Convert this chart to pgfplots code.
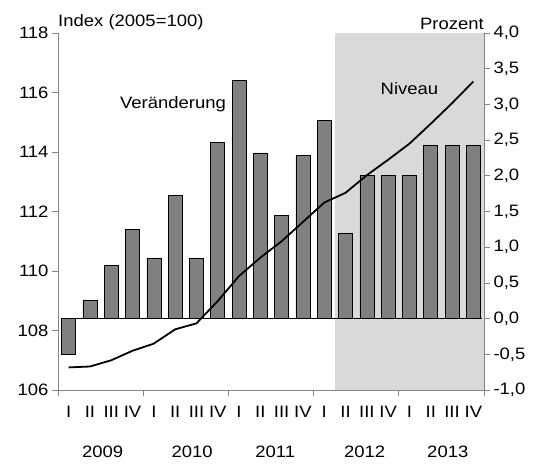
\documentclass[border=0pt]{standalone}
\usepackage{fontspec}
\setmainfont{Liberation Sans}[FakeStretch=1.12]
\usepackage{pgfplots}
\pgfplotsset{compat=1.18}
\definecolor{bargray}{RGB}{128,128,128}
\definecolor{fcgray}{RGB}{217,217,217}
\definecolor{axgray}{RGB}{134,134,134}

\begin{document}
\begin{tikzpicture}
\pgfplotsset{
  base/.style={
    width=426pt, height=357pt, scale only axis,
    xmin=-0.5, xmax=19.5, clip=false,
    font=\fontsize{16.5}{19}\selectfont,
    /pgf/number format/assume math mode=true,
    axis line style={axgray, line width=0.8pt},
    tick style={axgray, line width=0.8pt},
    major tick length=6pt, tick align=outside,
  }
}
% Veraenderung (Prozent), rechte Achse
\begin{axis}[base,
  ymin=-1, ymax=4,
  axis y line*=right, axis x line*=bottom,
  ytick={-1,-0.5,0,0.5,1,1.5,2,2.5,3,3.5,4},
  yticklabel style={/pgf/number format/.cd, fixed, fixed zerofill, precision=1, use comma},
  xtick={0,...,19},
  xticklabels={I,II,III,IV,I,II,III,IV,I,II,III,IV,I,II,III,IV,I,II,III,IV},
  xtick style={draw=none},
  xticklabel style={yshift=-7pt},
]
\fill[fcgray] (axis cs:12.5,-1) rectangle (axis cs:19.5,4);
\addplot[ybar, bar width=14pt, fill=bargray, draw=black, line width=0.7pt] coordinates {
  (0,-0.5) (1,0.25) (2,0.75) (3,1.25)
  (4,0.85) (5,1.73) (6,0.85) (7,2.47)
  (8,3.33) (9,2.32) (10,1.44) (11,2.29)
  (12,2.77) (13,1.19) (14,2.0) (15,2.0)
  (16,2.0) (17,2.42) (18,2.42) (19,2.42)
};
\draw[black, line width=0.9pt] (axis cs:-0.35,0) -- (axis cs:19.4,0);
\node[anchor=south east, inner sep=0pt] at (axis cs:19.5,4) [yshift=3pt] {Prozent};
\node at (axis cs:4.9,3.0) {Veränderung};
\node at (axis cs:16.0,3.22) {Niveau};
\end{axis}
% Niveau (Index), linke Achse
\begin{axis}[base,
  ymin=106, ymax=118,
  axis y line*=left, axis x line*=bottom,
  ytick={106,108,...,118},
  xtick={-0.5,3.5,7.5,11.5,15.5,19.5},
  xticklabels={},
]
\addplot[black, line width=1.8pt, no markers, line join=round] coordinates {
  (0,106.76) (1,106.79) (2,107.0) (3,107.32)
  (4,107.56) (5,108.04) (6,108.24) (7,108.99)
  (8,109.83) (9,110.45) (10,111.0) (11,111.65)
  (12,112.3) (13,112.63) (14,113.22) (15,113.74)
  (16,114.28) (17,114.95) (18,115.64) (19,116.37)
};
\node[anchor=south west, inner sep=0pt] at (axis cs:-0.5,118) [yshift=3pt] {Index (2005=100)};
\node at (axis cs:1.6,106) [yshift=-62pt] {2009};
\node at (axis cs:5.8,106) [yshift=-62pt] {2010};
\node at (axis cs:9.7,106) [yshift=-62pt] {2011};
\node at (axis cs:13.9,106) [yshift=-62pt] {2012};
\node at (axis cs:17.8,106) [yshift=-62pt] {2013};
\end{axis}
\path (current axis.south west) ++(-58pt,-74pt) rectangle ++(534pt,464pt);
\end{tikzpicture}
\end{document}
